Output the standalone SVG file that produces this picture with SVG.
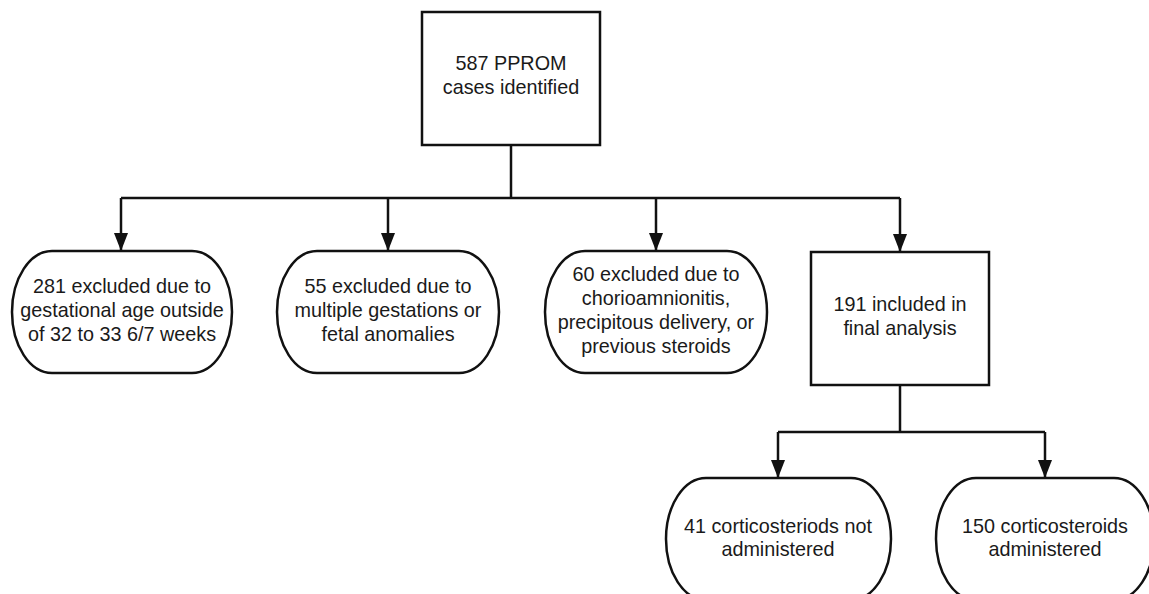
<svg xmlns="http://www.w3.org/2000/svg" width="1149" height="594" viewBox="0 0 1149 594">
<style>
.box{fill:#fff;stroke:#111;stroke-width:2.5}
.t{font-family:"Liberation Sans",Arial,sans-serif;font-size:19.8px;fill:#1a1a1a;text-anchor:middle}
.c{fill:none;stroke:#111;stroke-width:2.5}
</style>
<defs>
<marker id="a" markerWidth="18" markerHeight="14" refX="18" refY="7" orient="auto" markerUnits="userSpaceOnUse" viewBox="0 0 18 14">
<path d="M0,0 L18,7 L0,14 Z" fill="#111"/>
</marker>
</defs>
<rect width="1149" height="594" fill="#fff"/>
<g id="connectors">
<path class="c" d="M511,145 V198"/>
<path class="c" d="M121,198 H900"/>
<path class="c" d="M121,198 V251" marker-end="url(#a)"/>
<path class="c" d="M388,198 V251" marker-end="url(#a)"/>
<path class="c" d="M656,198 V251" marker-end="url(#a)"/>
<path class="c" d="M900,198 V252" marker-end="url(#a)"/>
<path class="c" d="M900,385 V432"/>
<path class="c" d="M778,432 H1045"/>
<path class="c" d="M778,432 V478" marker-end="url(#a)"/>
<path class="c" d="M1045,432 V478" marker-end="url(#a)"/>
</g>
<g id="n0">
<rect class="box" x="422" y="12" width="178" height="133"/>
<text class="t" x="511" y="70">587 PPROM</text>
<text class="t" x="511" y="94">cases identified</text>
</g>
<g id="n1">
<rect class="box" x="12" y="251" width="220" height="122" rx="40" ry="61"/>
<text class="t" x="122" y="293">281 excluded due to</text>
<text class="t" x="122" y="317">gestational age outside</text>
<text class="t" x="122" y="341">of 32 to 33 6/7 weeks</text>
</g>
<g id="n2">
<rect class="box" x="277" y="251" width="222" height="122" rx="40" ry="61"/>
<text class="t" x="388" y="293">55 excluded due to</text>
<text class="t" x="388" y="317">multiple gestations or</text>
<text class="t" x="388" y="341">fetal anomalies</text>
</g>
<g id="n3">
<rect class="box" x="545" y="251" width="222" height="122" rx="40" ry="61"/>
<text class="t" x="656" y="281">60 excluded due to</text>
<text class="t" x="656" y="305">chorioamnionitis,</text>
<text class="t" x="656" y="329">precipitous delivery, or</text>
<text class="t" x="656" y="353">previous steroids</text>
</g>
<g id="n4">
<rect class="box" x="811" y="252" width="178" height="133"/>
<text class="t" x="900" y="311">191 included in</text>
<text class="t" x="900" y="335">final analysis</text>
</g>
<g id="n5">
<rect class="box" x="666" y="478" width="225" height="122" rx="40" ry="61"/>
<text class="t" x="778" y="533">41 corticosteriods not</text>
<text class="t" x="778" y="556">administered</text>
</g>
<g id="n6">
<rect class="box" x="936" y="478" width="218" height="122" rx="40" ry="61"/>
<text class="t" x="1045" y="533">150 corticosteroids</text>
<text class="t" x="1045" y="556">administered</text>
</g>
</svg>
